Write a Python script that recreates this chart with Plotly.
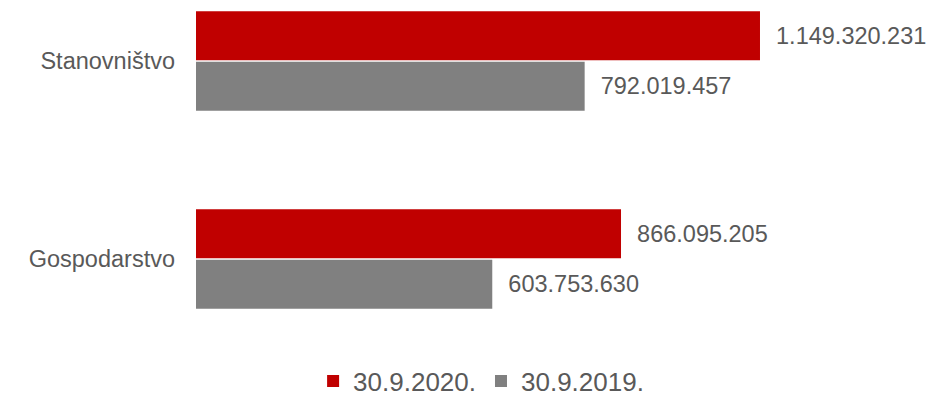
import plotly.graph_objects as go

categories = ["Stanovništvo", "Gospodarstvo"]
series_names = ["30.9.2020.", "30.9.2019."]
values_2020 = [1149320231, 866095205]
values_2019 = [792019457, 603753630]
colors = ["#C00000", "#808080"]

TXT = "#595959"
FONT = "Liberation Sans, Arial, sans-serif"

fig = go.Figure()
for name, vals, col in zip(series_names, [values_2020, values_2019], colors):
    fig.add_trace(go.Bar(
        y=categories, x=vals, name=name, orientation="h",
        marker=dict(color=col, line=dict(width=0)),
        texttemplate="\u00a0\u00a0%{x:,}", textposition="outside",
        textfont=dict(family=FONT, size=23.5, color=TXT),
        cliponaxis=False, hoverinfo="skip",
    ))

fig.update_layout(
    width=934, height=394,
    margin=dict(l=188, r=59, t=0, b=62, autoexpand=False),
    paper_bgcolor="white", plot_bgcolor="white",
    barmode="group", bargap=0.49, bargroupgap=0.03,
    separators=",.",
    font=dict(family=FONT, color=TXT),
    showlegend=True,
    legend=dict(orientation="h", x=0.415, xanchor="center", y=-0.124, yanchor="middle",
                font=dict(family=FONT, size=26, color=TXT), traceorder="normal",
                tracegroupgap=0),
    xaxis=dict(range=[0, 1.4e9], visible=False, showgrid=False, zeroline=False,
               automargin=False),
    yaxis=dict(range=[1.409, -0.268], showgrid=False, zeroline=False, showline=False,
               ticks="", ticklabelstandoff=20, automargin=False,
               tickfont=dict(family=FONT, size=23.5, color=TXT)),
)

fig.write_html("out.html")
